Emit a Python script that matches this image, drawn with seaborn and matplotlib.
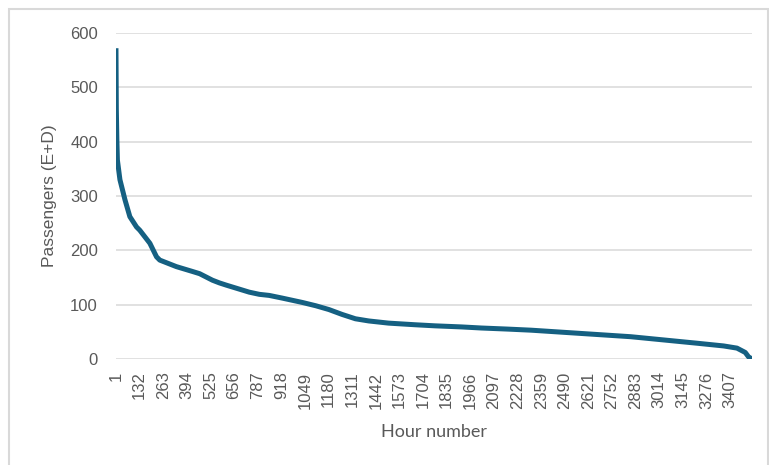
import matplotlib
matplotlib.use("Agg")
import matplotlib.pyplot as plt
import matplotlib.patches as patches
import seaborn as sns
import pandas as pd

# Values (sorted load-duration curve)
hours = [1, 3, 6, 9, 23, 51, 78, 115, 133, 189, 226, 244, 336, 426, 465,
         536, 575, 612, 740, 796, 851, 924, 1035, 1109, 1182, 1255, 1329,
         1403, 1513, 1660, 1771, 1918, 2028, 2175, 2304, 2488, 2672, 2856,
         3040, 3224, 3371, 3445, 3491, 3509, 3528]
passengers = [572, 460, 403, 366, 330, 293, 262, 243, 237, 213, 188, 182,
              170, 161, 157, 145, 140, 136, 123, 119, 117, 112, 104, 98, 91,
              82, 74, 70, 66, 63, 61, 59, 57, 55, 53, 49, 45, 41, 35, 29, 24,
              20, 12, 4, 0]
tick_hours = list(range(1, 3408, 131))
y_ticks = [0, 100, 200, 300, 400, 500, 600]

df = pd.DataFrame({"Hour number": hours, "Passengers (E+D)": passengers})

sns.set_theme(style="white")
plt.rcParams['font.family'] = ['Liberation Sans', 'DejaVu Sans']

fig = plt.figure(figsize=(7.69, 4.65), dpi=100)
ax = fig.add_axes([0.1508, 0.228, 0.827, 0.701])

sns.lineplot(data=df, x="Hour number", y="Passengers (E+D)", ax=ax,
             color="#156082", linewidth=3.6, solid_capstyle="butt")

ax.set_xlim(1, 3528)
ax.set_ylim(0, 600)
ax.set_xticks(tick_hours)
ax.set_xticklabels([str(h) for h in tick_hours], rotation=90)
ax.set_yticks(y_ticks)

ax.grid(axis="y", color="#d9d9d9", linewidth=1.1)
ax.set_axisbelow(True)
for s in ax.spines.values():
    s.set_visible(False)

ax.tick_params(axis="x", length=0, pad=9, labelsize=12, labelcolor="#595959")
ax.tick_params(axis="y", length=0, pad=13, labelsize=12, labelcolor="#595959")

ax.set_ylabel("Passengers (E+D)", fontsize=12.5, color="#595959")
ax.yaxis.set_label_coords(-0.092, 0.5)
ax.set_xlabel("Hour number", fontsize=13, color="#595959", family=["Lato", "DejaVu Sans"])
ax.xaxis.set_label_coords(0.5, -0.2)

# light chart-area border
fig.patches.append(patches.Rectangle((9 / 769, -0.02), 759 / 769, 1.02 - 9 / 465,
                                     transform=fig.transFigure, fill=False,
                                     edgecolor="#d9d9d9", linewidth=1.5))

plt.savefig("out.png", dpi=100)
